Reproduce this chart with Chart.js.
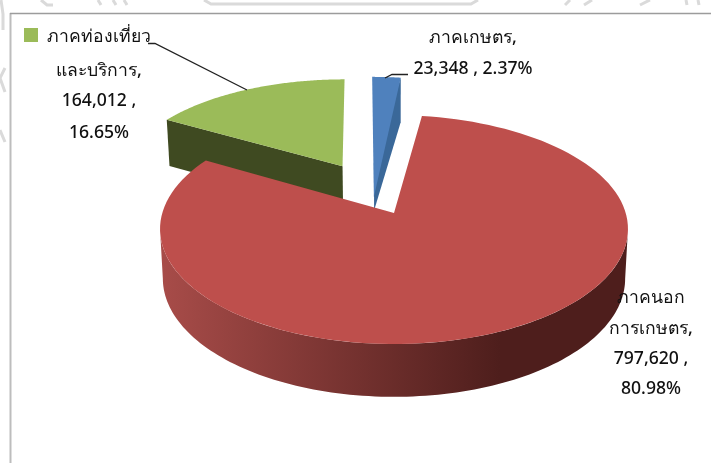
<!DOCTYPE html>
<html>
<head>
<meta charset="utf-8">
<style>
  html, body { margin: 0; padding: 0; background: #fff; }
  #wrap { width: 711px; height: 463px; }
</style>
<script src="https://cdn.jsdelivr.net/npm/chart.js@4"></script>
</head>
<body>
<div id="wrap"><canvas id="chart" width="711" height="463"></canvas></div>
<script>
// values
const categories = ["ภาคเกษตร", "ภาคนอกการเกษตร", "ภาคท่องเที่ยวและบริการ"];
const values = [23348, 797620, 164012];
const percents = ["2.37%", "80.98%", "16.65%"];
const labelLines = [
  ["ภาคเกษตร,", "23,348 , 2.37%"],
  ["ภาคนอก", "การเกษตร,", "797,620 ,", "80.98%"],
  ["ภาคท่องเที่ยว", "และบริการ,", "164,012 ,", "16.65%"],
];

const topColors = ["#4F81BD", "#BE4F4C", "#9BBB59"];
const wallColors = ["#3A6899", "#7a2e2c", "#3F4A21"];

// fake 3D: perspective projection of the flat pie, origin sits on the red apex
const originX = 394, originY = 213;
const radius = 231.7, tilt = 112.8, persp = 0.139;
const explode = 0.25;
const wallDepth = 49;
const faceDrop = [34, 0, 0];

// faint watermark showing round the frame of the scanned page
const watermark = [
  [[41, 0], [47, 5], [53, 5]],
  [[98, 0], [101, 5]],
  [[113, 0], [116, 5]],
  [[124, 0], [127, 5]],
  [[204, 0], [211, 4], [471, 4], [478, 0]],
  [[570, 0], [565, 5]],
  [[592, 0], [584, 5]],
  [[650, 0], [640, 5]],
  [[686, 0], [687, 5]],
  [[698, 0], [699, 5]],
  [[1, 0], [3, 14], [3, 30]],
  [[5, 68], [0, 78], [5, 92]],
  [[0, 130], [5, 142]],
];

function project(x, y, drop) {
  const w = 1 / (1 - persp * y);
  const dy = tilt * y * w;
  let sx = originX + radius * x * w;
  let sy = originY + dy;
  if (dy < 0) {
    // far side leans a little to the left in the original
    sx -= 0.00024 * dy * dy;
    sy += 0.0001 * dy * dy;
  }
  if (drop) {
    sy += wallDepth * Math.sqrt(w);
    sx = originX + (sx - originX) * 0.988;
  }
  return [sx, sy];
}

function slicePoints(arc, arcs) {
  const start = arc.startAngle + Math.PI / 2;
  const end = arc.endAngle + Math.PI / 2;
  const mid = (start + end) / 2;
  const redMid = (arcs[1].startAngle + arcs[1].endAngle) / 2 + Math.PI / 2;
  // every slice is pushed out from the pie centre, then the view is re-centred on red
  const ox = explode * (Math.sin(mid) - Math.sin(redMid));
  const oy = explode * (-Math.cos(mid) + Math.cos(redMid));
  const outer = (t, drop) => project(ox + Math.sin(t), oy - Math.cos(t), drop);
  const apex = (drop) => project(ox, oy, drop);
  return { start, end, outer, apex };
}

function fillPoly(ctx, pts, color) {
  ctx.beginPath();
  pts.forEach((p, i) => (i ? ctx.lineTo(p[0], p[1]) : ctx.moveTo(p[0], p[1])));
  ctx.closePath();
  ctx.fillStyle = color;
  ctx.fill();
}

function arcRange(fn, a, b, drop) {
  const pts = [];
  const n = 120;
  for (let k = 0; k <= n; k++) pts.push(fn(a + ((b - a) * k) / n, drop));
  return pts;
}

function drawSlice(ctx, arcs, i) {
  const s = slicePoints(arcs[i], arcs);
  const rim = arcRange(s.outer, s.start, s.end, false);

  if (i === 1) {
    // round wall of the big slice, only the near side between the widest points
    const grad = ctx.createLinearGradient(160, 0, 500, 0);
    grad.addColorStop(0, "#A84C49");
    grad.addColorStop(1, "#4E1E1C");
    const a = Math.acos(-persp);
    const b = 2 * Math.PI - a;
    const high = arcRange(s.outer, a, b, false);
    const low = arcRange(s.outer, a, b, true).reverse();
    fillPoly(ctx, high.concat(low), grad);
  } else if (i === 2) {
    fillPoly(ctx, [s.outer(s.start, false), s.outer(s.start, true), s.apex(true), s.apex(false)], wallColors[i]);
  } else {
    fillPoly(ctx, [s.outer(s.end, false), s.outer(s.end, true), s.apex(true), s.apex(false)], wallColors[i]);
  }

  const tip = s.apex(false);
  tip[1] += faceDrop[i];
  fillPoly(ctx, rim.concat([tip]), topColors[i]);
}

const pie3d = {
  id: "pie3d",
  beforeDatasetsDraw(chart) {
    const ctx = chart.ctx;
    const arcs = chart.getDatasetMeta(0).data;
    ctx.save();
    // back to front
    [2, 0, 1].forEach((i) => drawSlice(ctx, arcs, i));
    ctx.restore();
    return false;
  },
  afterDraw(chart) {
    const ctx = chart.ctx;
    ctx.save();

    // watermark
    ctx.strokeStyle = "#DADADA";
    ctx.lineWidth = 3;
    watermark.forEach((pts) => {
      ctx.beginPath();
      pts.forEach((p, i) => (i ? ctx.lineTo(p[0], p[1]) : ctx.moveTo(p[0], p[1])));
      ctx.stroke();
    });

    // frame
    ctx.strokeStyle = "#BDBDBD";
    ctx.lineWidth = 2;
    ctx.beginPath();
    ctx.moveTo(10.5, 463);
    ctx.lineTo(10.5, 13);
    ctx.stroke();
    ctx.strokeStyle = "#9C9C9C";
    ctx.lineWidth = 1.3;
    ctx.beginPath();
    ctx.moveTo(10, 13.5);
    ctx.lineTo(711, 13.5);
    ctx.stroke();

    // legend key
    ctx.fillStyle = topColors[2];
    ctx.fillRect(24, 28, 14, 14);

    // leader lines
    ctx.strokeStyle = "#222";
    ctx.lineWidth = 1.3;
    ctx.beginPath();
    ctx.moveTo(148, 43.5);
    ctx.lineTo(155, 43.5);
    ctx.lineTo(247, 90);
    ctx.moveTo(385, 78);
    ctx.lineTo(392, 74.5);
    ctx.lineTo(408, 74.5);
    ctx.stroke();

    // labels
    ctx.fillStyle = "#111";
    ctx.font = '500 17.6px "Noto Sans", Tahoma, sans-serif';
    ctx.textAlign = "center";
    ctx.textBaseline = "middle";
    const centers = [473, 651, 99];
    const lineYs = [[38, 69], [298, 329, 359, 389], [37, 71, 101, 133]];
    labelLines.forEach((lines, i) => {
      lines.forEach((t, k) => ctx.fillText(t, centers[i], lineYs[i][k]));
    });
    ctx.restore();
  },
};

new Chart(document.getElementById("chart"), {
  type: "pie",
  data: {
    labels: categories,
    datasets: [{ data: values, backgroundColor: topColors }],
  },
  options: {
    responsive: false,
    animation: false,
    plugins: { legend: { display: false }, tooltip: { enabled: false } },
  },
  plugins: [pie3d],
});
</script>
</body>
</html>
